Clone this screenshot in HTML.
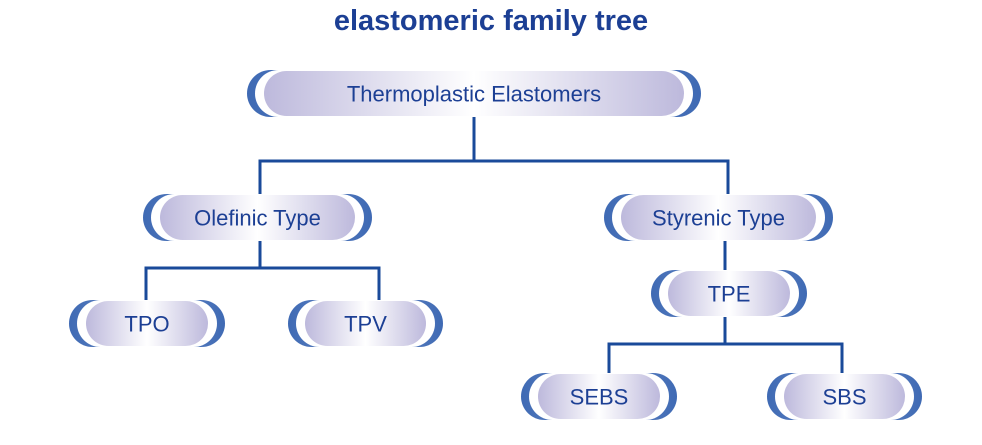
<!DOCTYPE html>
<html><head><meta charset="utf-8"><style>
body{margin:0;background:#fff;width:982px;height:445px;overflow:hidden}
svg{display:block}
text{font-family:"Liberation Sans",sans-serif;fill:#1c3f94}
</style></head><body>
<svg width="982" height="445">
<defs>
<linearGradient id="g" x1="0" x2="1" y1="0" y2="0">
<stop offset="0" stop-color="#bdb9dc"/><stop offset="0.5" stop-color="#ffffff"/><stop offset="1" stop-color="#bdb9dc"/>
</linearGradient>
<linearGradient id="b" x1="0" x2="1"><stop offset="0" stop-color="#3f6ab4"/><stop offset="0.5" stop-color="#6f8fc8"/><stop offset="1" stop-color="#3f6ab4"/></linearGradient>
</defs>
<text x="491" y="30" text-anchor="middle" font-size="29" font-weight="bold">elastomeric family tree</text>
<g stroke="#1a4a9a" stroke-width="3" fill="none">
<path d="M474 117V161M260 195V161H728V195"/>
<path d="M260 241V268M146 301V268H379V301"/>
<path d="M725 241V271"/>
<path d="M725 316V344M609 374V344H842V374"/>
</g>
<g id="nodes"></g>
</svg>
<script>
const labels=["Thermoplastic Elastomers","Olefinic Type","Styrenic Type","TPO","TPV","TPE","SEBS","SBS"];
const boxes=[[247,70,454,47],[143,194,229,47],[604,194,229,47],[69,300,156,47],[288,300,155,47],[651,270,156,47],[521,373,156,47],[767,373,155,47]];
const ns="http://www.w3.org/2000/svg";
const G=document.getElementById('nodes');
function mk(t,a){const e=document.createElementNS(ns,t);for(const k in a)e.setAttribute(k,a[k]);return e;}
labels.forEach((l,i)=>{const [x,y,w,h]=boxes[i];
const g=mk('g',{});


g.appendChild(mk('rect',{x:x,y:y,width:w,height:h,rx:h/2,fill:'url(#b)'}));
g.appendChild(mk('rect',{x:x+8,y:y,width:w-16,height:h,rx:h/2,fill:'#fff'}));
g.appendChild(mk('rect',{x:x+17,y:y+1,width:w-34,height:h-2,rx:(h-2)/2,fill:'url(#g)'}));
const t=mk('text',{x:x+w/2,y:y+h/2+8,'text-anchor':'middle','font-size':22});
t.textContent=l;g.appendChild(t);G.appendChild(g);});
</script>
</body></html>
